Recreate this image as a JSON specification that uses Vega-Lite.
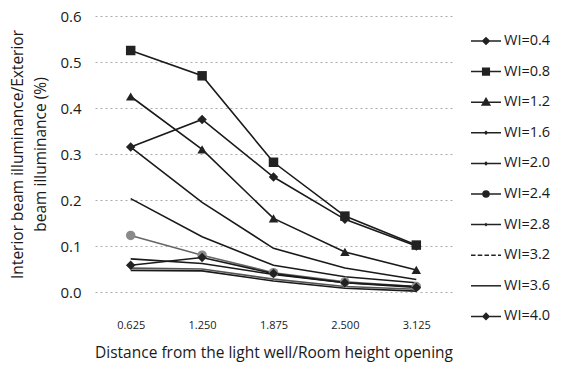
{
  "$schema": "https://vega.github.io/schema/vega-lite/v6.json",
  "width": 357,
  "height": 276,
  "autosize": {"type": "none"},
  "padding": {"left": 95, "top": 16, "right": 110, "bottom": 86},
  "background": "white",
  "config": {
    "font": "Open Sans",
    "view": {"stroke": null},
    "axis": {"labelColor": "#1a1a1a", "titleColor": "#1a1a1a", "titleFontWeight": "normal"}
  },
  "data": {
    "values": [
      {"wi": "WI=0.4", "d": "0.625", "v": 0.315},
      {"wi": "WI=0.4", "d": "1.250", "v": 0.375},
      {"wi": "WI=0.4", "d": "1.875", "v": 0.25},
      {"wi": "WI=0.4", "d": "2.500", "v": 0.158},
      {"wi": "WI=0.4", "d": "3.125", "v": 0.1},
      {"wi": "WI=0.8", "d": "0.625", "v": 0.525},
      {"wi": "WI=0.8", "d": "1.250", "v": 0.47},
      {"wi": "WI=0.8", "d": "1.875", "v": 0.282},
      {"wi": "WI=0.8", "d": "2.500", "v": 0.165},
      {"wi": "WI=0.8", "d": "3.125", "v": 0.102},
      {"wi": "WI=1.2", "d": "0.625", "v": 0.425},
      {"wi": "WI=1.2", "d": "1.250", "v": 0.31},
      {"wi": "WI=1.2", "d": "1.875", "v": 0.16},
      {"wi": "WI=1.2", "d": "2.500", "v": 0.087},
      {"wi": "WI=1.2", "d": "3.125", "v": 0.048},
      {"wi": "WI=1.6", "d": "0.625", "v": 0.315},
      {"wi": "WI=1.6", "d": "1.250", "v": 0.195},
      {"wi": "WI=1.6", "d": "1.875", "v": 0.095},
      {"wi": "WI=1.6", "d": "2.500", "v": 0.052},
      {"wi": "WI=1.6", "d": "3.125", "v": 0.027},
      {"wi": "WI=2.0", "d": "0.625", "v": 0.203},
      {"wi": "WI=2.0", "d": "1.250", "v": 0.12},
      {"wi": "WI=2.0", "d": "1.875", "v": 0.058},
      {"wi": "WI=2.0", "d": "2.500", "v": 0.033},
      {"wi": "WI=2.0", "d": "3.125", "v": 0.02},
      {"wi": "WI=2.4", "d": "0.625", "v": 0.123},
      {"wi": "WI=2.4", "d": "1.250", "v": 0.08},
      {"wi": "WI=2.4", "d": "1.875", "v": 0.042},
      {"wi": "WI=2.4", "d": "2.500", "v": 0.022},
      {"wi": "WI=2.4", "d": "3.125", "v": 0.012},
      {"wi": "WI=2.8", "d": "0.625", "v": 0.072},
      {"wi": "WI=2.8", "d": "1.250", "v": 0.062},
      {"wi": "WI=2.8", "d": "1.875", "v": 0.038},
      {"wi": "WI=2.8", "d": "2.500", "v": 0.02},
      {"wi": "WI=2.8", "d": "3.125", "v": 0.012},
      {"wi": "WI=3.2", "d": "0.625", "v": 0.052},
      {"wi": "WI=3.2", "d": "1.250", "v": 0.05},
      {"wi": "WI=3.2", "d": "1.875", "v": 0.028},
      {"wi": "WI=3.2", "d": "2.500", "v": 0.012},
      {"wi": "WI=3.2", "d": "3.125", "v": 0.006},
      {"wi": "WI=3.6", "d": "0.625", "v": 0.047},
      {"wi": "WI=3.6", "d": "1.250", "v": 0.046},
      {"wi": "WI=3.6", "d": "1.875", "v": 0.024},
      {"wi": "WI=3.6", "d": "2.500", "v": 0.008},
      {"wi": "WI=3.6", "d": "3.125", "v": 0.002},
      {"wi": "WI=4.0", "d": "0.625", "v": 0.058},
      {"wi": "WI=4.0", "d": "1.250", "v": 0.075},
      {"wi": "WI=4.0", "d": "1.875", "v": 0.04},
      {"wi": "WI=4.0", "d": "2.500", "v": 0.02},
      {"wi": "WI=4.0", "d": "3.125", "v": 0.01}
    ]
  },
  "encoding": {
    "x": {
      "field": "d",
      "type": "ordinal",
      "sort": ["0.625", "1.250", "1.875", "2.500", "3.125"],
      "scale": {"type": "point", "padding": 0.5},
      "axis": {
        "title": "Distance from the light well/Room height opening",
        "labelAngle": 0,
        "labelFontSize": 11,
        "labelPadding": 27,
        "ticks": false,
        "domain": false,
        "grid": false,
        "titleFontSize": 15.5,
        "titlePadding": 15
      }
    },
    "y": {
      "field": "v",
      "type": "quantitative",
      "scale": {"domain": [0, 0.6], "nice": false},
      "axis": {
        "title": ["Interior beam illuminance/Exterior", "beam illuminance (%)"],
        "values": [0, 0.1, 0.2, 0.3, 0.4, 0.5, 0.6],
        "format": ".1f",
        "labelFontSize": 15,
        "labelPadding": 14,
        "ticks": false,
        "domain": false,
        "grid": true,
        "gridColor": "#aaa",
        "gridDash": [2, 3],
        "gridWidth": 1,
        "titleFontSize": 15.5,
        "titleLineHeight": 23,
        "titlePadding": 11
      }
    }
  },
  "layer": [
    {
      "mark": {"type": "line", "strokeWidth": 1.6},
      "encoding": {
        "detail": {"field": "wi"},
        "color": {
          "field": "wi",
          "scale": {
            "domain": ["WI=0.4", "WI=0.8", "WI=1.2", "WI=1.6", "WI=2.0", "WI=2.4", "WI=2.8", "WI=3.2", "WI=3.6", "WI=4.0"],
            "range": ["#1a1a1a", "#1a1a1a", "#1a1a1a", "#1a1a1a", "#1a1a1a", "#666", "#1a1a1a", "#555", "#1a1a1a", "#1a1a1a"]
          },
          "legend": null
        }
      }
    },
    {
      "transform": [{"filter": {"field": "wi", "oneOf": ["WI=0.4", "WI=0.8", "WI=1.2", "WI=2.4", "WI=4.0"]}}],
      "mark": {"type": "point", "filled": true, "size": 90, "opacity": 1},
      "encoding": {
        "shape": {
          "field": "wi",
          "scale": {
            "domain": ["WI=0.4", "WI=0.8", "WI=1.2", "WI=2.4", "WI=4.0"],
            "range": ["diamond", "square", "triangle-up", "circle", "diamond"]
          },
          "legend": null
        },
        "color": {
          "field": "wi",
          "scale": {
            "domain": ["WI=0.4", "WI=0.8", "WI=1.2", "WI=2.4", "WI=4.0"],
            "range": ["#222", "#222", "#222", "#8a8a8a", "#222"]
          },
          "legend": null
        }
      }
    },
    {
      "mark": {"type": "point", "filled": false, "color": "#222", "fill": "#222", "stroke": "#222", "strokeWidth": 1.5, "opacity": 0},
      "encoding": {
        "shape": {
          "field": "wi",
          "title": null,
          "scale": {
            "domain": ["WI=0.4", "WI=0.8", "WI=1.2", "WI=1.6", "WI=2.0", "WI=2.4", "WI=2.8", "WI=3.2", "WI=3.6", "WI=4.0"],
            "range": [
              "M-1,0L1,0M0,-0.22L0.22,0L0,0.22L-0.22,0Z",
              "M-1,0L1,0M-0.22,-0.22L0.22,-0.22L0.22,0.22L-0.22,0.22Z",
              "M-1,0L1,0M0,-0.25L0.25,0.18L-0.25,0.18Z",
              "M-1,0L1,0M0,-0.08L0.08,0L0,0.08L-0.08,0Z",
              "M-1,0L1,0M0,-0.08L0.08,0L0,0.08L-0.08,0Z",
              "M-1,0L1,0M-0.2,0A0.2,0.2 0 1,0 0.2,0A0.2,0.2 0 1,0 -0.2,0Z",
              "M-1,0L1,0M0,-0.06L0.06,0L0,0.06L-0.06,0Z",
              "M-1,0L-0.7,0M-0.55,0L-0.25,0M-0.1,0L0.2,0M0.35,0L0.65,0M0.8,0L1,0",
              "M-1,0L1,0",
              "M-1,0L1,0M0,-0.2L0.2,0L0,0.2L-0.2,0Z"
            ]
          },
          "legend": {
            "orient": "none",
            "legendX": 375,
            "legendY": 9,
            "symbolSize": 900,
            "symbolOpacity": 1,
            "symbolStrokeWidth": 1.5,
            "labelFontSize": 14.5,
            "labelColor": "#1a1a1a",
            "labelOffset": 2,
            "rowPadding": 7.6
          }
        }
      }
    }
  ],
  "resolve": {"scale": {"shape": "independent", "color": "independent"}}
}
